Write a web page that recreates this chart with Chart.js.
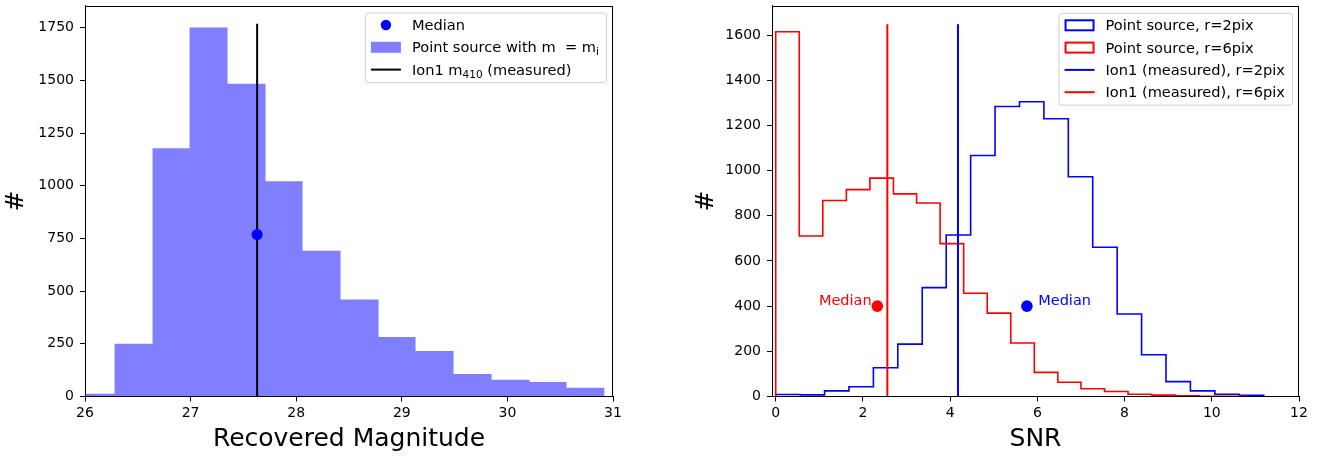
<!DOCTYPE html>
<html>
<head>
<meta charset="utf-8">
<script src="https://cdn.jsdelivr.net/npm/chart.js@4.4.0/dist/chart.umd.min.js"></script>
<style>
  html, body { margin: 0; padding: 0; background: #fff; }
  #wrap { position: relative; width: 1325px; height: 457px; }
  #magChart { position: absolute; left: 0; top: 0; }
  #snrChart { position: absolute; left: 690px; top: 0; }
</style>
</head>
<body>
<div id="wrap">
  <canvas id="magChart" width="660" height="457"></canvas>
  <canvas id="snrChart" width="635" height="457"></canvas>
</div>
<script>
// left panel: recovered magnitudes of the injected point source
var magEdges = [25.92, 26.28, 26.64, 26.99, 27.35, 27.71, 28.06, 28.42, 28.78, 29.13, 29.49, 29.85, 30.21, 30.56, 30.92];
var magCounts = [13, 250, 1178, 1752, 1484, 1022, 692, 461, 282, 216, 107, 79, 69, 41];
var magTicks = [26, 27, 28, 29, 30, 31];
var magCountTicks = [0, 250, 500, 750, 1000, 1250, 1500, 1750];
var ionMag = 27.63;
var ionMagTop = 1769;
var magMedian = {x: 27.63, y: 769};

// right panel: SNR for two apertures
var snrEdgesR2 = [0.00, 0.56, 1.12, 1.68, 2.24, 2.80, 3.36, 3.91, 4.47, 5.03, 5.59, 6.15, 6.71, 7.27, 7.83, 8.39, 8.95, 9.51, 10.07, 10.63, 11.19];
var snrCountsR2 = [9, 7, 25, 43, 127, 232, 482, 715, 1067, 1284, 1305, 1230, 973, 661, 365, 185, 66, 25, 10, 5];
var snrEdgesR6 = [0.00, 0.54, 1.08, 1.62, 2.16, 2.70, 3.23, 3.77, 4.31, 4.85, 5.39, 5.93, 6.47, 7.00, 7.54, 8.08, 8.62, 9.16, 9.70, 10.24, 10.78];
var snrCountsR6 = [1615, 711, 868, 916, 967, 897, 857, 677, 457, 369, 237, 107, 63, 34, 22, 10, 6, 3, 1, 1];
var snrTicks = [0, 2, 4, 6, 8, 10, 12];
var snrCountTicks = [0, 200, 400, 600, 800, 1000, 1200, 1400, 1600];
var ionSnrR2 = 4.18;
var ionSnrR6 = 2.56;
var ionSnrTop = 1648;
var medianR2 = {x: 5.76, y: 400};
var medianR6 = {x: 2.33, y: 400};
var medianLabelR2 = {x: 6.02, y: 400};
var medianLabelR6 = {x: 2.20, y: 400};

Chart.defaults.font.family = '"DejaVu Sans", sans-serif';
Chart.defaults.font.size = 14;
Chart.defaults.color = '#000';

function stepPoints(edges, counts) {
    var pts = [{x: edges[0], y: 0}];
    counts.forEach(function(c, i) { pts.push({x: edges[i], y: c}); });
    pts.push({x: edges[edges.length - 1], y: counts[counts.length - 1]});
    pts.push({x: edges[edges.length - 1], y: 0});
    return pts;
}

function vline(x, top) {
    return [{x: x, y: 0}, {x: x, y: top}];
}

function fixTicks(values) {
    return function(scale) {
        scale.ticks = values.map(function(v) { return {value: v}; });
    };
}

function xAxis(min, max, ticks, title) {
    return {
        type: 'linear', min: min, max: max,
        afterBuildTicks: fixTicks(ticks),
        afterFit: function(s) {
            s.height = 60.5;
            s.paddingLeft = 0; s.paddingRight = 0;
        },
        ticks: { color: '#000', padding: 3, autoSkip: false, maxRotation: 0,
                 callback: function(v) { return String(v); } },
        grid: { drawOnChartArea: false, drawTicks: true, tickLength: 5, color: '#000' },
        border: { display: true, color: '#000', width: 1 },
        title: { display: true, text: title, color: '#000', font: {size: 25}, padding: {top: 0, bottom: 3} }
    };
}

function yAxis(max, ticks, width) {
    return {
        type: 'linear', min: 0, max: max,
        afterBuildTicks: fixTicks(ticks),
        afterFit: function(s) {
            s.width = width;
            s.paddingTop = 0; s.paddingBottom = 0;
        },
        ticks: { color: '#000', padding: 6, autoSkip: false,
                 callback: function(v) { return String(v); } },
        grid: { drawOnChartArea: false, drawTicks: true, tickLength: 5, color: '#000' },
        border: { display: true, color: '#000', width: 1 },
        title: { display: true, text: '#', color: '#000', font: {size: 25}, padding: {top: 1, bottom: 0} }
    };
}

var framePlugin = {
    id: 'frame',
    afterDatasetsDraw: function(chart) {
        var a = chart.chartArea, ctx = chart.ctx;
        var l = Math.round(a.left) + 0.5, r = Math.round(a.right) - 0.5;
        var t = Math.round(a.top) + 0.5, b = Math.round(a.bottom) - 0.5;
        ctx.save();
        ctx.strokeStyle = '#000';
        ctx.lineWidth = 1;
        ctx.strokeRect(l, t, r - l, b - t);
        ctx.restore();
    }
};

var medianTextPlugin = {
    id: 'medianText',
    afterDatasetsDraw: function(chart, args, opts) {
        var ctx = chart.ctx;
        (opts.labels || []).forEach(function(lab) {
            var x = chart.scales.x.getPixelForValue(lab.x);
            var y = chart.scales.y.getPixelForValue(lab.y);
            ctx.save();
            ctx.font = '14.5px "DejaVu Sans"';
            ctx.fillStyle = lab.color;
            ctx.textAlign = lab.align;
            ctx.textBaseline = 'alphabetic';
            ctx.fillText(lab.text, x, y - 1);
            ctx.restore();
        });
    }
};

var boxLegendPlugin = {
    id: 'boxLegend',
    afterDraw: function(chart, args, opts) {
        var items = opts.items || [];
        var ctx = chart.ctx, area = chart.chartArea;
        var mainFont = '14.6px "DejaVu Sans"', subFont = '10.5px "DejaVu Sans"';
        ctx.save();
        function partsWidth(parts) {
            var w = 0;
            parts.forEach(function(p) {
                ctx.font = p.sub ? subFont : mainFont;
                w += ctx.measureText(p.t).width;
            });
            return w;
        }
        var textW = 0;
        items.forEach(function(it) { textW = Math.max(textW, partsWidth(it.parts)); });
        var textLeft = 47, pitch = 22.3, firstRow = 12.5;
        var w = textLeft + textW + 7;
        var h = firstRow * 2 + pitch * (items.length - 1);
        var x0 = area.right - 7 - w, y0 = area.top + 7;

        ctx.beginPath();
        ctx.roundRect(x0 + 0.5, y0 + 0.5, w, h, 3);
        ctx.fillStyle = 'rgba(255,255,255,0.8)';
        ctx.fill();
        ctx.strokeStyle = 'rgba(204,204,204,0.9)';
        ctx.lineWidth = 1;
        ctx.stroke();

        items.forEach(function(it, i) {
            var cy = y0 + firstRow + pitch * i;
            var hx = x0 + 6;
            if (it.kind === 'dot') {
                ctx.beginPath();
                ctx.arc(hx + 15, cy, 5.2, 0, Math.PI * 2);
                ctx.fillStyle = it.color;
                ctx.fill();
            } else if (it.kind === 'patch') {
                ctx.fillStyle = it.color;
                ctx.fillRect(hx, cy - 5.5, 30, 11);
            } else if (it.kind === 'rect') {
                ctx.strokeStyle = it.color;
                ctx.lineWidth = 2;
                ctx.strokeRect(hx + 1, cy - 5, 28, 10);
            } else {
                ctx.strokeStyle = it.color;
                ctx.lineWidth = 2;
                ctx.beginPath();
                ctx.moveTo(hx, cy);
                ctx.lineTo(hx + 30, cy);
                ctx.stroke();
            }
            var tx = x0 + textLeft;
            ctx.fillStyle = '#000';
            ctx.textAlign = 'left';
            ctx.textBaseline = 'alphabetic';
            it.parts.forEach(function(p) {
                ctx.font = p.sub ? subFont : mainFont;
                ctx.fillText(p.t, tx, cy + 5 + (p.sub ? 3 : 0));
                tx += ctx.measureText(p.t).width;
            });
        });
        ctx.restore();
    }
};

var magChart = new Chart(document.getElementById('magChart'), {
    type: 'line',
    data: {
        datasets: [{
            label: 'Median',
            data: [magMedian],
            showLine: false,
            pointRadius: 5.5,
            pointBackgroundColor: '#0000ff',
            pointBorderWidth: 0
        },
        {
            label: 'Ion1 m410 (measured)',
            data: vline(ionMag, ionMagTop),
            borderColor: '#000000',
            borderWidth: 2,
            pointRadius: 0
        },
        {
            label: 'Point source with m = mi',
            data: stepPoints(magEdges, magCounts),
            stepped: true,
            fill: 'origin',
            backgroundColor: 'rgba(0, 0, 255, 0.5)',
            borderWidth: 0,
            pointRadius: 0,
            clip: 0
        }]
    },
    options: {
        responsive: false,
        animation: false,
        events: [],
        layout: { padding: {top: 3, right: 47, bottom: 0, left: 0} },
        scales: {
            x: xAxis(26, 31, magTicks, 'Recovered Magnitude'),
            y: yAxis(1856, magCountTicks, 85)
        },
        plugins: {
            legend: { display: false },
            tooltip: { enabled: false },
            boxLegend: {
                items: [
                    {kind: 'dot', color: '#0000ff', parts: [{t: 'Median'}]},
                    {kind: 'patch', color: 'rgba(0, 0, 255, 0.5)', parts: [{t: 'Point source with m  = m'}, {t: 'i', sub: true}]},
                    {kind: 'line', color: '#000000', parts: [{t: 'Ion1 m'}, {t: '410', sub: true}, {t: ' (measured)'}]}
                ]
            }
        }
    },
    plugins: [framePlugin, boxLegendPlugin]
});

var snrChart = new Chart(document.getElementById('snrChart'), {
    type: 'line',
    data: {
        datasets: [{
            label: 'Median r=2pix',
            data: [medianR2],
            showLine: false,
            pointRadius: 5.8,
            pointBackgroundColor: '#0000ff',
            pointBorderWidth: 0
        },
        {
            label: 'Median r=6pix',
            data: [medianR6],
            showLine: false,
            pointRadius: 5.8,
            pointBackgroundColor: '#ff0000',
            pointBorderWidth: 0
        },
        {
            label: 'Ion1 (measured), r=6pix',
            data: vline(ionSnrR6, ionSnrTop),
            borderColor: '#ff0000',
            borderWidth: 2,
            pointRadius: 0
        },
        {
            label: 'Ion1 (measured), r=2pix',
            data: vline(ionSnrR2, ionSnrTop),
            borderColor: '#0000ff',
            borderWidth: 2,
            pointRadius: 0
        },
        {
            label: 'Point source, r=6pix',
            data: stepPoints(snrEdgesR6, snrCountsR6),
            stepped: true,
            borderColor: '#ff0000',
            borderWidth: 1.6,
            pointRadius: 0
        },
        {
            label: 'Point source, r=2pix',
            data: stepPoints(snrEdgesR2, snrCountsR2),
            stepped: true,
            borderColor: '#0000ff',
            borderWidth: 1.6,
            pointRadius: 0
        }]
    },
    options: {
        responsive: false,
        animation: false,
        events: [],
        layout: { padding: {top: 3, right: 26, bottom: 0, left: 0} },
        scales: {
            x: xAxis(-0.085, 12, snrTicks, 'SNR'),
            y: yAxis(1730, snrCountTicks, 82)
        },
        plugins: {
            legend: { display: false },
            tooltip: { enabled: false },
            medianText: {
                labels: [
                    {text: 'Median', x: medianLabelR6.x, y: medianLabelR6.y, color: '#ff0000', align: 'right'},
                    {text: 'Median', x: medianLabelR2.x, y: medianLabelR2.y, color: '#0000ff', align: 'left'}
                ]
            },
            boxLegend: {
                items: [
                    {kind: 'rect', color: '#0000ff', parts: [{t: 'Point source, r=2pix'}]},
                    {kind: 'rect', color: '#ff0000', parts: [{t: 'Point source, r=6pix'}]},
                    {kind: 'line', color: '#0000ff', parts: [{t: 'Ion1 (measured), r=2pix'}]},
                    {kind: 'line', color: '#ff0000', parts: [{t: 'Ion1 (measured), r=6pix'}]}
                ]
            }
        }
    },
    plugins: [framePlugin, medianTextPlugin, boxLegendPlugin]
});
</script>
</body>
</html>
